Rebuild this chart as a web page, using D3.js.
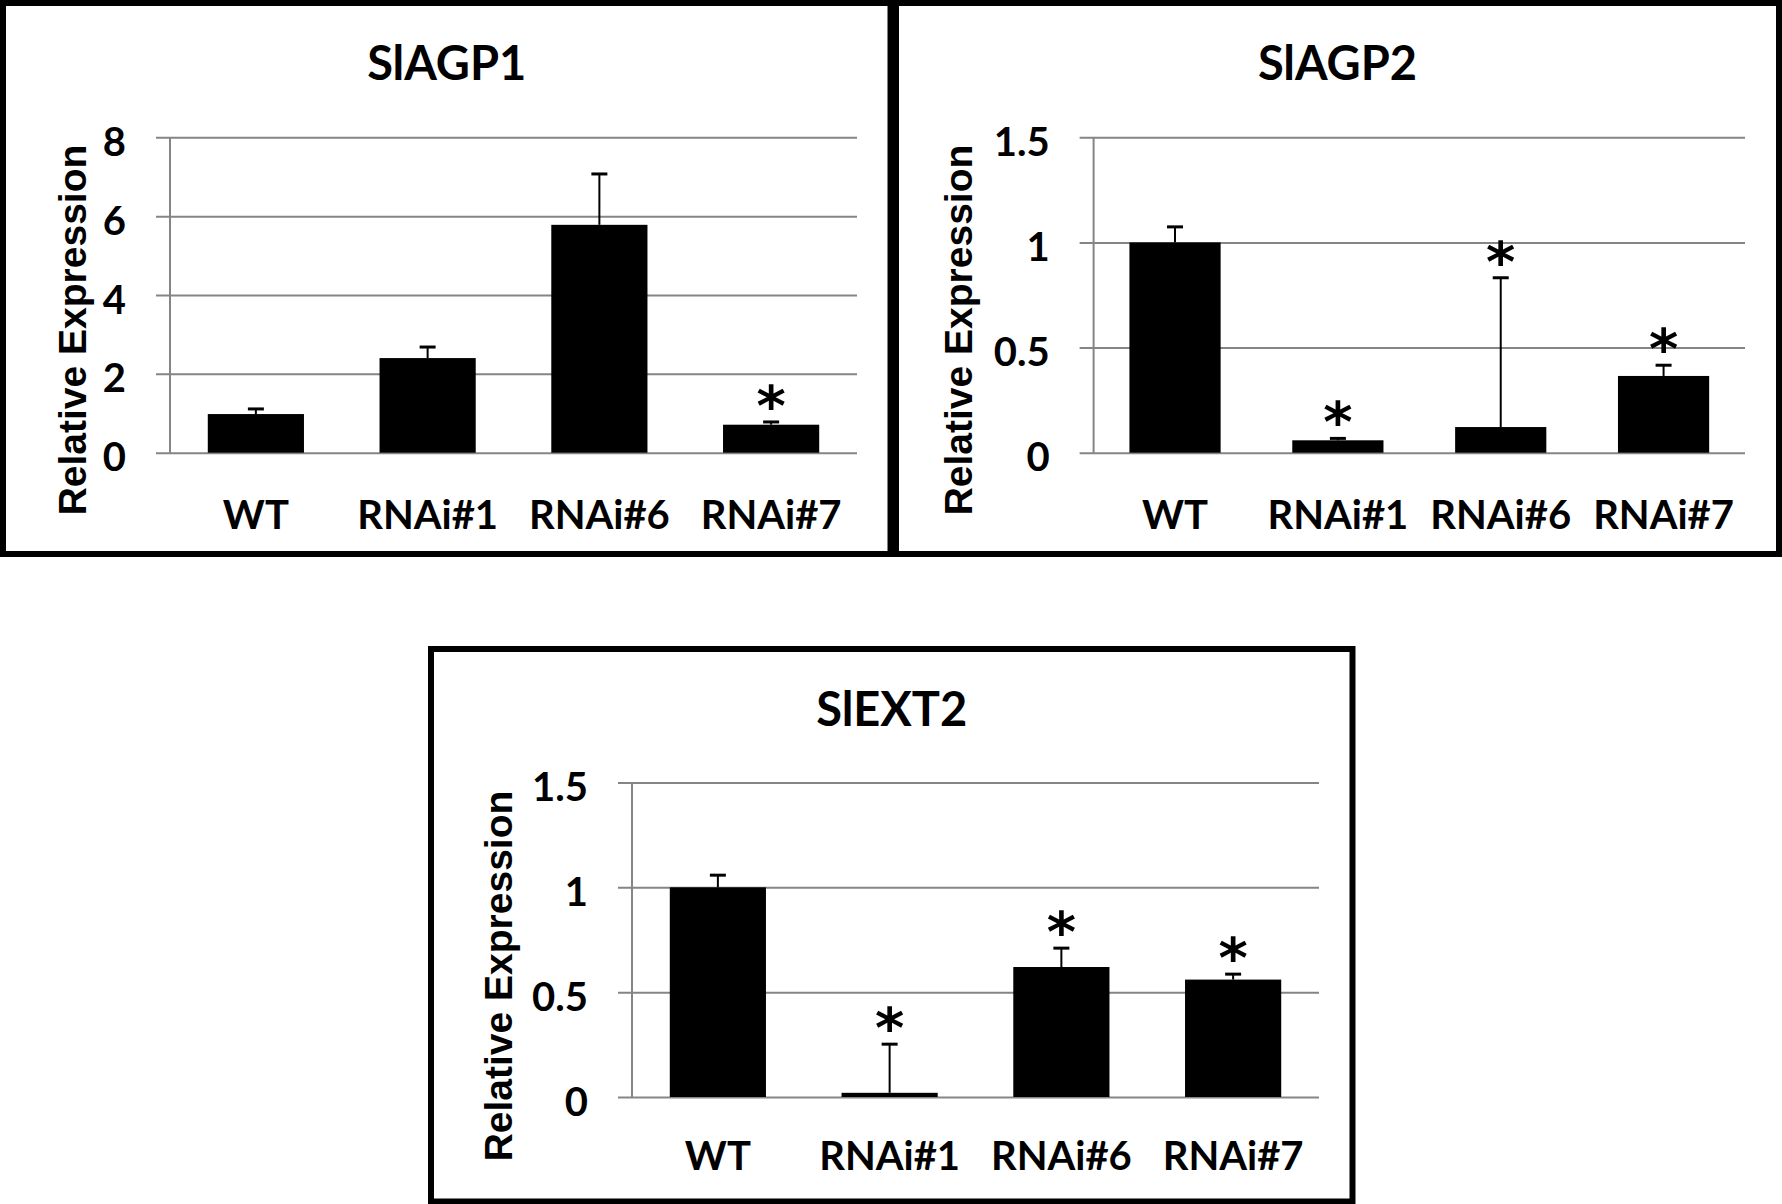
<!DOCTYPE html>
<html>
<head>
<meta charset="utf-8">
<script src="https://cdn.jsdelivr.net/npm/d3@7"></script>
<style>
    body { margin: 0; background: #fff; }
    .title, .cat, .tick text { font-family: Lato, "Open Sans", sans-serif; font-weight: bold; fill: #000; }
    .ylab { font-family: "Liberation Sans", Arial, sans-serif; font-weight: bold; fill: #000; }
    .star { font-family: "DejaVu Sans", sans-serif; font-weight: bold; fill: #000; }
</style>
</head>
<body>
<script>
var categories = ["WT", "RNAi#1", "RNAi#6", "RNAi#7"];

// SlAGP1
var agp1Values = [0.98, 2.40, 5.78, 0.71];
var agp1Errors = [0.13, 0.28, 1.29, 0.07];
var agp1Stars = [false, false, false, true];
var agp1Ticks = [0, 2, 4, 6, 8];

// SlAGP2
var agp2Values = [1.0, 0.059, 0.122, 0.365];
var agp2Errors = [0.074, 0.009, 0.71, 0.051];
var agp2Stars = [false, true, true, true];
var agp2Ticks = [0, 0.5, 1, 1.5];

// SlEXT2
var ext2Values = [1.0, 0.02, 0.62, 0.56];
var ext2Errors = [0.058, 0.232, 0.09, 0.026];
var ext2Stars = [false, true, true, true];
var ext2Ticks = [0, 0.5, 1, 1.5];

var W = 1782, H = 1204;
var svg = d3.select("body").append("svg").attr("width", W).attr("height", H);

function drawPanel(p) {
    // frame
    svg.append("rect")
        .attr("x", p.box[0]).attr("y", p.box[1])
        .attr("width", p.box[2] - p.box[0]).attr("height", p.box[3] - p.box[1])
        .attr("fill", "none").attr("stroke", "#000").attr("stroke-width", 6);

    var x = d3.scaleBand().domain(categories)
        .range([p.left, p.right]).paddingInner(0.44).paddingOuter(0.22);
    var y = d3.scaleLinear().domain([0, d3.max(p.ticks)]).range([p.bottom, p.top]);

    var g = svg.append("g");

    // gridlines + tick labels
    var yAxis = d3.axisLeft(y).tickValues(p.ticks)
        .tickSizeInner(-(p.right - p.left)).tickSizeOuter(0).tickPadding(44)
        .tickFormat(d3.format("~g"));
    var ax = g.append("g").attr("transform", "translate(" + p.left + ",0)").call(yAxis);
    ax.select(".domain").remove();
    ax.selectAll(".tick line").attr("x1", -14).attr("stroke", "#858585").attr("stroke-width", 2);
    ax.selectAll(".tick text").attr("font-size", 40).attr("dy", "0.45em");

    g.append("line")
        .attr("x1", p.left).attr("x2", p.left)
        .attr("y1", y(d3.max(p.ticks))).attr("y2", y(0))
        .attr("stroke", "#858585").attr("stroke-width", 2);

    var data = categories.map(function (c, i) {
        return { cat: c, v: p.values[i], e: p.errors[i], star: p.stars[i] };
    });

    // error bars (upper only)
    var eb = g.selectAll(".err").data(data).enter().append("g");
    eb.append("line")
        .attr("x1", function (d) { return x(d.cat) + x.bandwidth() / 2; })
        .attr("x2", function (d) { return x(d.cat) + x.bandwidth() / 2; })
        .attr("y1", function (d) { return y(d.v); })
        .attr("y2", function (d) { return y(d.v + d.e); })
        .attr("stroke", "#000").attr("stroke-width", 2);
    eb.append("line")
        .attr("x1", function (d) { return x(d.cat) + x.bandwidth() / 2 - 8; })
        .attr("x2", function (d) { return x(d.cat) + x.bandwidth() / 2 + 8; })
        .attr("y1", function (d) { return y(d.v + d.e); })
        .attr("y2", function (d) { return y(d.v + d.e); })
        .attr("stroke", "#000").attr("stroke-width", 3);

    g.selectAll(".bar").data(data).enter().append("rect")
        .attr("x", function (d) { return x(d.cat); })
        .attr("width", x.bandwidth())
        .attr("y", function (d) { return y(d.v); })
        .attr("height", function (d) { return y(0) - y(d.v); })
        .attr("fill", "#000");

    // significance marks
    g.selectAll(".star").data(data.filter(function (d) { return d.star; })).enter().append("text")
        .attr("class", "star")
        .attr("x", function (d) { return x(d.cat) + x.bandwidth() / 2; })
        .attr("y", function (d) { return y(d.v + d.e) + 3; })
        .attr("text-anchor", "middle")
        .attr("font-size", 56)
        .text("*");

    // category labels
    g.selectAll(".cat").data(categories).enter().append("text")
        .attr("class", "cat")
        .attr("x", function (d) { return x(d) + x.bandwidth() / 2; })
        .attr("y", p.catY)
        .attr("text-anchor", "middle")
        .attr("font-size", 40)
        .text(function (d) { return d; });

    svg.append("text")
        .attr("class", "title")
        .attr("x", (p.box[0] + p.box[2]) / 2)
        .attr("y", p.titleY)
        .attr("text-anchor", "middle")
        .attr("font-size", 47)
        .text(p.title);

    svg.append("text")
        .attr("class", "ylab")
        .attr("transform", "translate(" + p.ylabX + "," + p.ylabY + ") rotate(-90)")
        .attr("text-anchor", "middle")
        .attr("font-size", 39)
        .text("Relative Expression");
}

drawPanel({ title: "SlAGP1", values: agp1Values, errors: agp1Errors, stars: agp1Stars, ticks: agp1Ticks,
    box: [3, 3, 890.5, 554], left: 170, right: 857, top: 137.3, bottom: 452.7,
    titleY: 80, catY: 529, ylabX: 86, ylabY: 330 });

drawPanel({ title: "SlAGP2", values: agp2Values, errors: agp2Errors, stars: agp2Stars, ticks: agp2Ticks,
    box: [896, 3, 1779, 554], left: 1093.6, right: 1745, top: 137.3, bottom: 452.7,
    titleY: 80, catY: 529, ylabX: 972, ylabY: 330 });

drawPanel({ title: "SlEXT2", values: ext2Values, errors: ext2Errors, stars: ext2Stars, ticks: ext2Ticks,
    box: [431, 649, 1352.5, 1201.5], left: 632, right: 1319, top: 782.5, bottom: 1097,
    titleY: 726, catY: 1170, ylabX: 512, ylabY: 976 });
</script>
</body>
</html>
